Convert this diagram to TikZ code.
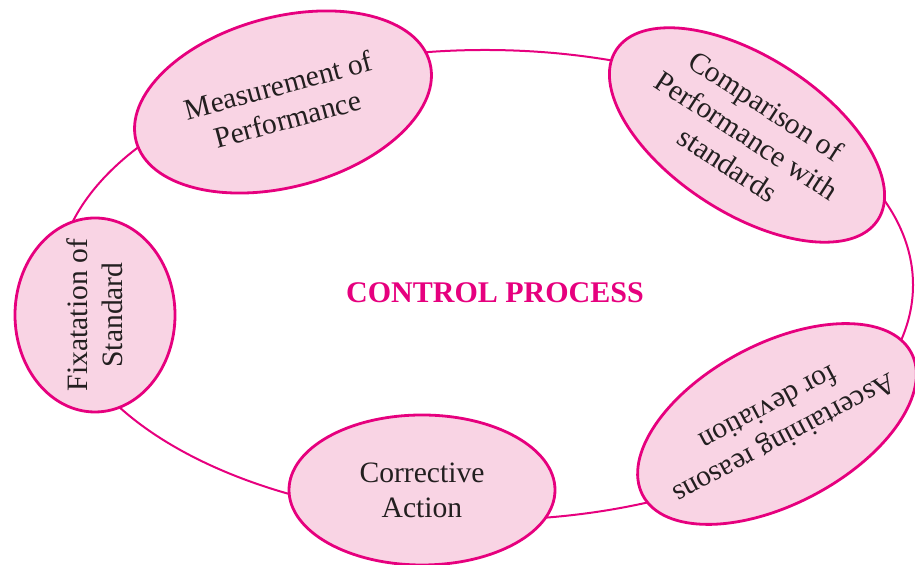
\documentclass[tikz,border=0pt]{standalone}
\usepackage{fontspec}
\setmainfont{Liberation Serif}
\usetikzlibrary{shapes.geometric}
\definecolor{ringpink}{HTML}{E6007E}
\definecolor{fillpink}{HTML}{F9D4E4}
\definecolor{inkgray}{HTML}{231F20}
\tikzset{
  stage/.style={ellipse, draw=ringpink, line width=1.4pt, fill=fillpink,
                align=center, inner xsep=-15pt, inner ysep=0pt, text=inkgray,
                font=\fontsize{14.8}{17.5}\selectfont},
  ring/.style={draw=ringpink, line width=1pt},
  title/.style={font=\fontsize{15}{18}\selectfont\bfseries, text=ringpink}
}

\begin{document}
\begin{tikzpicture}[x=0.5pt, y=0.5pt]
\useasboundingbox (0,0) rectangle (915,565);
\draw[ring] (485,280) ellipse [x radius=428, y radius=235];
\node[stage, minimum width=152pt, minimum height=85pt, rotate=15] (measure) at (283,463) {Measurement of\\Performance};
\node[stage, minimum width=156pt, minimum height=78pt, rotate=-33] (compare) at (747,430) {Comparison of\\Performance with\\standards};
\node[stage, minimum width=152pt, minimum height=80pt, rotate=208] (reasons) at (777,141) {Ascertaining reasons\\for deviation};
\node[stage, minimum width=97pt, minimum height=80pt, rotate=90] (fixing) at (95,250) {Fixatation of\\Standard};
\node[stage, minimum width=133pt, minimum height=75pt] (correct) at (422,75) {Corrective\\Action};
\node[title] (control) at (495,272) {CONTROL PROCESS};
\end{tikzpicture}
\end{document}
